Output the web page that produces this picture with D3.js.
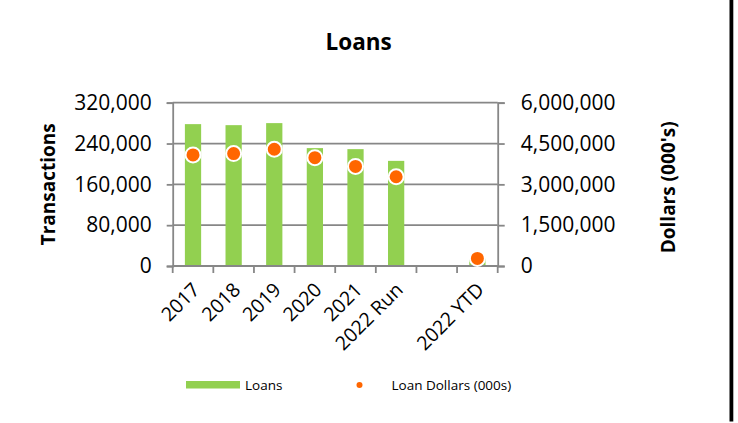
<!DOCTYPE html>
<html>
<head>
<meta charset="utf-8">
<script src="https://cdn.jsdelivr.net/npm/d3@7"></script>
<style>
    body { margin: 0; background: white; }
    text { font-family: "Open Sans", sans-serif; fill: black; }
</style>
</head>
<body>
<div id="root"></div>
<script>
// data
const years = ["2017", "2018", "2019", "2020", "2021", "2022 Run", "", "2022 YTD"]
const loans = [278000, 276000, 280000, 231000, 229000, 206000, null, 15000]
const loanDollars = [4080000, 4130000, 4290000, 3980000, 3660000, 3280000, null, 280000]
const leftTicks = [0, 80000, 160000, 240000, 320000]
const rightTicks = [0, 1500000, 3000000, 4500000, 6000000]

function drawChart() {
    const w = 738, h = 423
    const left = 172.7, right = 497.7, top = 102.7, bottom = 266
    const gridColor = "#878787"

//scales
    const xscale = d3.scaleBand()
        .domain(years)
        .range([left, right])
        .padding(0)

    const yLeft = d3.scaleLinear()
        .domain([0, 320000])
        .range([bottom, top])

    const yRight = d3.scaleLinear()
        .domain([0, 6000000])
        .range([bottom, top])

    const fmt = d3.format(",")

    const svg = d3.select("#root").append("svg")
        .attr("width", w)
        .attr("height", h)

    svg.append("rect")
        .attr("width", w).attr("height", h)
        .attr("fill", "white")

    // gridlines
    svg.selectAll("line.grid")
        .data(leftTicks)
        .enter()
        .append("line")
        .attr("class", "grid")
        .attr("x1", left).attr("x2", right)
        .attr("y1", d => yLeft(d)).attr("y2", d => yLeft(d))
        .attr("stroke", gridColor)
        .attr("stroke-width", 1.8)

    // left axis
    const leftAxis = svg.append("g")
        .attr("transform", `translate(${left},0)`)
        .call(d3.axisLeft(yLeft).tickValues(leftTicks).tickFormat(fmt).tickSize(6).tickPadding(15))
    leftAxis.select(".domain").attr("stroke", gridColor).attr("stroke-width", 1.8)
    leftAxis.selectAll(".tick line").attr("stroke", gridColor).attr("stroke-width", 1.8)
    leftAxis.selectAll(".tick text")
        .attr("font-size", 21)
        .attr("font-family", "Open Sans")
        .attr("fill", "black")

    // right axis
    const rightAxis = svg.append("g")
        .attr("transform", `translate(${right},0)`)
        .call(d3.axisRight(yRight).tickValues(rightTicks).tickFormat(fmt).tickSize(7).tickPadding(16))
    rightAxis.select(".domain").attr("stroke", gridColor).attr("stroke-width", 1.8)
    rightAxis.selectAll(".tick line").attr("stroke", gridColor).attr("stroke-width", 1.8)
    rightAxis.selectAll(".tick text")
        .attr("font-size", 21)
        .attr("font-family", "Open Sans")
        .attr("fill", "black")

    // bottom ticks at slot boundaries
    const bounds = years.map(d => xscale(d)).concat([right])
    svg.selectAll("line.xtick")
        .data(bounds)
        .enter()
        .append("line")
        .attr("class", "xtick")
        .attr("x1", d => d).attr("x2", d => d)
        .attr("y1", bottom).attr("y2", bottom + 7)
        .attr("stroke", gridColor)
        .attr("stroke-width", 1.8)

    // bars
    const barW = xscale.bandwidth() * 0.4
    svg.selectAll("rect.bar")
        .data(years.map((d, i) => ({year: d, value: loans[i]})).filter(d => d.value != null))
        .enter()
        .append("rect")
        .attr("class", "bar")
        .attr("x", d => xscale(d.year) + xscale.bandwidth() / 2 - barW / 2)
        .attr("y", d => yLeft(d.value))
        .attr("width", barW)
        .attr("height", d => bottom - yLeft(d.value))
        .attr("fill", "#92D050")

    // redraw bottom axis line over bars
    svg.append("line")
        .attr("x1", left).attr("x2", right)
        .attr("y1", bottom).attr("y2", bottom)
        .attr("stroke", gridColor)
        .attr("stroke-width", 1.8)

    // dots
    svg.selectAll("circle.dot")
        .data(years.map((d, i) => ({year: d, value: loanDollars[i]})).filter(d => d.value != null))
        .enter()
        .append("circle")
        .attr("class", "dot")
        .attr("cx", d => xscale(d.year) + xscale.bandwidth() / 2)
        .attr("cy", d => yRight(d.value))
        .attr("r", 7.5)
        .attr("fill", "#FF6600")
        .attr("stroke", "white")
        .attr("stroke-width", 2)

    // x labels
    svg.selectAll("text.xlabel")
        .data(years)
        .enter()
        .append("text")
        .attr("class", "xlabel")
        .attr("font-size", 19.5)
        .attr("text-anchor", "end")
        .attr("transform", d => "translate(" + [xscale(d) + xscale.bandwidth() / 2 + 8, bottom + 25] + ") rotate(-45)")
        .text(d => d)

    // title
    svg.append("text")
        .attr("x", 358.7).attr("y", 49.5)
        .attr("text-anchor", "middle")
        .attr("font-size", 22.5)
        .attr("font-weight", "bold")
        .text("Loans")

    // axis titles
    svg.append("text")
        .attr("transform", `translate(55,${(top + bottom) / 2}) rotate(-90)`)
        .attr("text-anchor", "middle")
        .attr("font-size", 19)
        .attr("font-weight", "bold")
        .text("Transactions")

    svg.append("text")
        .attr("transform", `translate(675,${(top + bottom) / 2 + 3}) rotate(-90)`)
        .attr("text-anchor", "middle")
        .attr("font-size", 19)
        .attr("font-weight", "bold")
        .text("Dollars (000's)")

    // legend
    const legend = svg.append("g")
    legend.append("rect")
        .attr("x", 186).attr("y", 381)
        .attr("width", 54).attr("height", 7.5)
        .attr("fill", "#92D050")
    legend.append("text")
        .attr("x", 245).attr("y", 390)
        .attr("font-size", 13.5)
        .text("Loans")
    legend.append("circle")
        .attr("cx", 359.5).attr("cy", 385)
        .attr("r", 3)
        .attr("fill", "#FF6600")
    legend.append("text")
        .attr("x", 391.5).attr("y", 390)
        .attr("font-size", 13.5)
        .text("Loan Dollars (000s)")

    // right edge border
    svg.append("rect")
        .attr("x", 729.5).attr("y", 0)
        .attr("width", 3.8).attr("height", 421.5)
        .attr("fill", "black")
}
drawChart()
</script>
</body>
</html>
